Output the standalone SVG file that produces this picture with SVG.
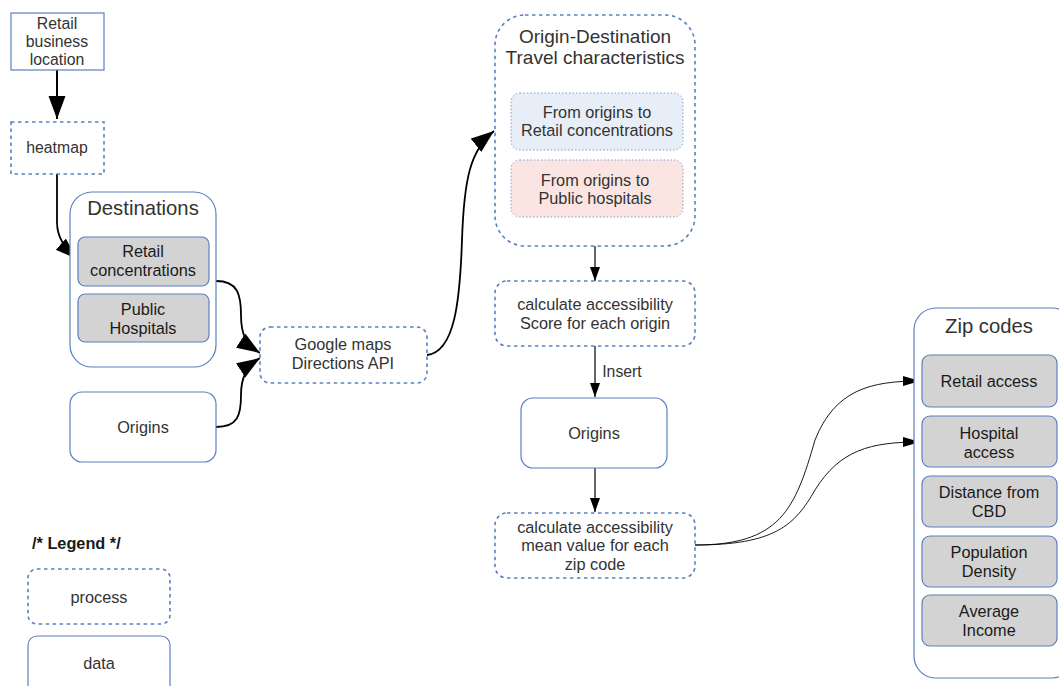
<svg xmlns="http://www.w3.org/2000/svg" width="1059" height="686" viewBox="0 0 1059 686">
<defs>
<style>
text{font-family:"Liberation Sans",Arial,sans-serif;fill:#333;text-anchor:middle}
.t15{font-size:16.3px}
.t14{font-size:16.3px}
.t16{font-size:15.8px}
.t20{font-size:20.3px}
.t19{font-size:19px}
.dk{fill:#1a1a1a}
.data{fill:#fff;stroke:#5b80c0;stroke-width:1.2}
.proc{fill:#fff;stroke:#5b80c0;stroke-width:1.6;stroke-dasharray:3.5 3.5}
.item{fill:#d3d3d3;stroke:#5b80c0;stroke-width:1.2}
.con{fill:none;stroke:#000}
</style>
<marker id="big" markerUnits="userSpaceOnUse" markerWidth="24" markerHeight="18" refX="23" refY="8.5" orient="auto"><path d="M0,0 L23,8.5 L0,17 z" fill="#000"/></marker>
<marker id="mid" markerUnits="userSpaceOnUse" markerWidth="22" markerHeight="16" refX="22" refY="7.5" orient="auto"><path d="M0,0 L22,7.5 L0,15 z" fill="#000"/></marker>
<marker id="sm" markerUnits="userSpaceOnUse" markerWidth="14" markerHeight="11" refX="14" refY="5" orient="auto"><path d="M0,0 L14,5 L0,10 z" fill="#000"/></marker>
<marker id="thin" markerUnits="userSpaceOnUse" markerWidth="17" markerHeight="11" refX="17" refY="5" orient="auto"><path d="M0,0 L17,5 L0,10 z" fill="#000"/></marker>
</defs>
<rect width="1059" height="686" fill="#fff"/>

<g id="connectors">
<path class="con" stroke-width="2" d="M57,70 L57,119" marker-end="url(#big)"/>
<path class="con" stroke-width="1.8" d="M57,174 L57,222 C57,238 65,248 77,259" marker-end="url(#mid)"/>
<path class="con" stroke-width="1.8" d="M216,281 C238,281 241,295 241,315 C241,335 246,344 260,353" marker-end="url(#big)"/>
<path class="con" stroke-width="1.8" d="M216,427 C238,427 241,415 241,395 C241,378 246,367 260,358" marker-end="url(#big)"/>
<path class="con" stroke-width="1.8" d="M427,355 C455,352 460,300 462,240 C464,180 470,150 494,131" marker-end="url(#big)"/>
<path class="con" stroke-width="1.2" d="M595,246 L595,281" marker-end="url(#sm)"/>
<path class="con" stroke-width="1.2" d="M595,346 L595,397" marker-end="url(#sm)"/>
<path class="con" stroke-width="1.2" d="M595,468 L595,512" marker-end="url(#sm)"/>
<path class="con" stroke-width="0.9" d="M695,545 C780,545 795,510 815,440 C835,390 870,381 920,381" marker-end="url(#thin)"/>
<path class="con" stroke-width="0.9" d="M695,545 C775,545 795,525 815,490 C840,450 870,442 920,442" marker-end="url(#thin)"/>
<text x="622" y="377" class="t16">Insert</text>
</g>

<g id="retail-business-location">
<rect x="11" y="13" width="93" height="57" class="data"/>
<text class="t16" x="57" y="29">Retail</text>
<text class="t16" x="57" y="47">business</text>
<text class="t16" x="57" y="65">location</text>
</g>

<g id="heatmap">
<rect x="11" y="122" width="93" height="52" class="proc"/>
<text class="t16" x="57" y="153">heatmap</text>
</g>

<g id="destinations">
<rect x="70" y="192" width="146" height="175" rx="22" class="data"/>
<text class="t20" x="143" y="215">Destinations</text>
</g>
<g id="retail-concentrations">
<rect x="78" y="237" width="131" height="49" rx="7" class="item"/>
<text class="t15 dk" x="143" y="257">Retail</text>
<text class="t15 dk" x="143" y="276">concentrations</text>
</g>
<g id="public-hospitals">
<rect x="78" y="294" width="131" height="48" rx="7" class="item"/>
<text class="t15 dk" x="143" y="315">Public</text>
<text class="t15 dk" x="143" y="334">Hospitals</text>
</g>

<g id="origins-left">
<rect x="70" y="392" width="146" height="70" rx="12" class="data"/>
<text class="t15" x="143" y="433">Origins</text>
</g>

<g id="google-maps">
<rect x="260" y="327" width="167" height="56" rx="10" class="proc"/>
<text class="t14" x="343" y="350">Google maps</text>
<text class="t14" x="343" y="369">Directions API</text>
</g>

<g id="od-travel">
<rect x="495" y="15" width="200" height="231" rx="30" class="proc"/>
<text class="t19" x="595" y="43">Origin-Destination</text>
<text class="t19" x="595" y="64">Travel characteristics</text>
</g>
<g id="od-retail">
<rect x="511" y="93" width="172" height="57" rx="9" fill="#e8eef8" stroke="#7f9fcf" stroke-width="1" stroke-dasharray="1.5 2"/>
<text class="t15" x="597" y="118">From origins to</text>
<text class="t15" x="597" y="136">Retail concentrations</text>
</g>
<g id="od-hospitals">
<rect x="511" y="160" width="172" height="57" rx="9" fill="#fbe5e3" stroke="#7f9fcf" stroke-width="1" stroke-dasharray="1.5 2"/>
<text class="t15" x="595" y="186">From origins to</text>
<text class="t15" x="595" y="204">Public hospitals</text>
</g>

<g id="calc-score">
<rect x="495" y="281" width="200" height="65" rx="12" class="proc"/>
<text class="t14" x="595" y="310">calculate accessibility</text>
<text class="t14" x="595" y="329">Score for each origin</text>
</g>

<g id="origins-mid">
<rect x="521" y="398" width="146" height="70" rx="12" class="data"/>
<text class="t15" x="594" y="439">Origins</text>
</g>

<g id="calc-mean">
<rect x="495" y="513" width="200" height="65" rx="12" class="proc"/>
<text class="t14" x="595" y="533">calculate accessibility</text>
<text class="t14" x="595" y="551">mean value for each</text>
<text class="t14" x="595" y="570">zip code</text>
</g>

<g id="zip-codes">
<rect x="914" y="308" width="160" height="370" rx="22" class="data"/>
<text class="t20" x="989" y="333">Zip codes</text>
</g>
<g id="retail-access">
<rect x="922" y="355" width="135" height="52" rx="8" class="item"/>
<text class="t15 dk" x="989" y="387">Retail access</text>
</g>
<g id="hospital-access">
<rect x="922" y="416" width="135" height="51" rx="8" class="item"/>
<text class="t15 dk" x="989" y="439">Hospital</text>
<text class="t15 dk" x="989" y="458">access</text>
</g>
<g id="distance-cbd">
<rect x="922" y="476" width="135" height="51" rx="8" class="item"/>
<text class="t15 dk" x="989" y="498">Distance from</text>
<text class="t15 dk" x="989" y="517">CBD</text>
</g>
<g id="population-density">
<rect x="922" y="536" width="135" height="51" rx="8" class="item"/>
<text class="t15 dk" x="989" y="558">Population</text>
<text class="t15 dk" x="989" y="577">Density</text>
</g>
<g id="average-income">
<rect x="922" y="595" width="135" height="51" rx="8" class="item"/>
<text class="t15 dk" x="989" y="617">Average</text>
<text class="t15 dk" x="989" y="636">Income</text>
</g>

<g id="legend">
<text x="32" y="549" style="text-anchor:start;font-weight:bold;font-size:16.3px;fill:#1a1a1a">/* Legend */</text>
<g id="legend-process">
<rect x="28" y="569" width="142" height="55" rx="9" class="proc"/>
<text class="t14" x="99" y="603">process</text>
</g>
<g id="legend-data">
<rect x="28" y="636" width="142" height="60" rx="9" class="data"/>
<text class="t14" x="99" y="669">data</text>
</g>
</g>
</svg>
